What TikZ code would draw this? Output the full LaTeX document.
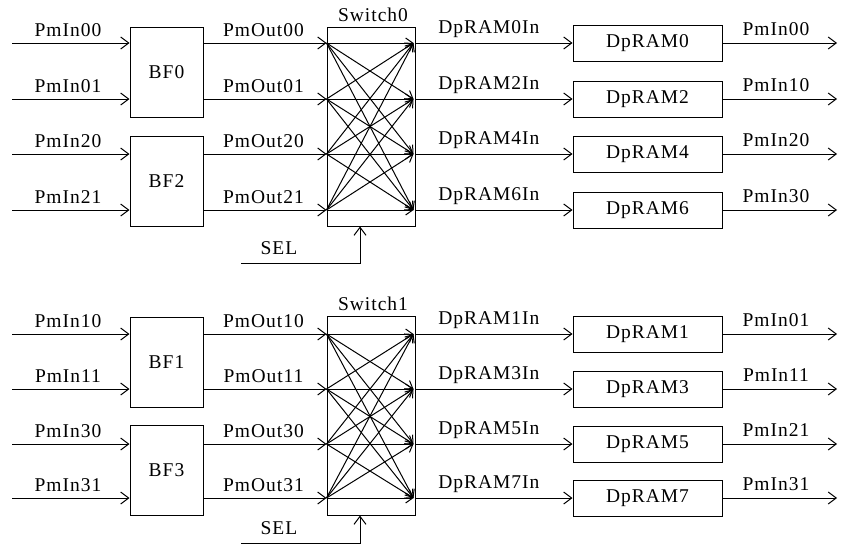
\documentclass[tikz,border=0pt]{standalone}
\usepackage{fontspec}
\setmainfont[LetterSpace=5]{Liberation Serif}
\usetikzlibrary{arrows.meta}
\begin{document}
\begin{tikzpicture}[x=1pt,y=-1pt,line width=1pt,
  font=\fontsize{19.5}{22}\selectfont,
  lbl/.style={anchor=base, inner sep=0pt},
  bfbox/.style={draw, minimum width=73pt, minimum height=90pt, inner sep=0pt},
  swbox/.style={draw, minimum width=88pt, minimum height=199pt, inner sep=0pt},
  rambox/.style={draw, minimum width=149pt, minimum height=36pt, inner sep=0pt},
  arr/.style={-{Straight Barb[length=8pt,width=12pt]}},
  sarr/.style={-{Straight Barb[length=7pt,width=10pt]}}]
\useasboundingbox (0,0) rectangle (842,554);

% blocks
\node[bfbox] (BF0) at (166.5,72.5) {BF0};
\node[bfbox] (BF2) at (166.5,181) {BF2};
\node[bfbox] (BF1) at (166.5,362) {BF1};
\node[bfbox] (BF3) at (166.5,470.5) {BF3};
\node[swbox] (S0) at (371,126.5) {};
\node[swbox] (S1) at (371,415.5) {};
\node[lbl] (S0l) at (373,21) {Switch0};
\node[lbl] (S1l) at (373,310) {Switch1};

% rows
\foreach \r/\y/\inl/\outl/\ram/\ol/\bf/\sw in {
  t1/43/PmIn00/PmOut00/0/PmIn00/BF0/S0,
  t2/99/PmIn01/PmOut01/2/PmIn10/BF0/S0,
  t3/154/PmIn20/PmOut20/4/PmIn20/BF2/S0,
  t4/210/PmIn21/PmOut21/6/PmIn30/BF2/S0,
  b1/334/PmIn10/PmOut10/1/PmIn01/BF1/S1,
  b2/389/PmIn11/PmOut11/3/PmIn11/BF1/S1,
  b3/444/PmIn30/PmOut30/5/PmIn21/BF3/S1,
  b4/498/PmIn31/PmOut31/7/PmIn31/BF3/S1}{
  \coordinate (in\r) at (12,\y);
  \coordinate (out\r) at (837,\y);
  \node[lbl] (lin\r) at (68,\y-7) {\inl};
  \node[lbl] (lout\r) at (263.5,\y-7) {\outl};
  \node[lbl] (lram\r) at (488.8,\y-10) {DpRAM\ram In};
  \node[lbl] (lo\r) at (776,\y-7.5) {\ol};
  \node[rambox] (ram\r) at (647.5,\y) {DpRAM\ram};
  \coordinate (sl\r) at (\sw.west |- in\r);
  \coordinate (sr\r) at ([xshift=-2pt]\sw.east |- in\r);
  \draw[arr] (in\r) -- (in\r -| \bf.west);
  \draw[arr] (\bf.east |- in\r) -- (sl\r);
  \draw[arr] (\sw.east |- in\r) -- (ram\r.west);
  \draw[arr] (ram\r.east) -- (out\r);
}

% crossbars
\foreach \i in {t1,t2,t3,t4}{\foreach \j in {t1,t2,t3,t4}{\draw[sarr] (sl\i) -- (sr\j);}}
\foreach \i in {b1,b2,b3,b4}{\foreach \j in {b1,b2,b3,b4}{\draw[sarr] (sl\i) -- (sr\j);}}

% select lines
\coordinate (sel0) at (241,263);
\coordinate (sel1) at (241,543);
\node[lbl] (sel0l) at (279,254) {SEL};
\node[lbl] (sel1l) at (279,534) {SEL};
\draw[arr] (sel0) -| ([xshift=-11pt]S0.south);
\draw[arr] (sel1) -| ([xshift=-11pt]S1.south);
\end{tikzpicture}
\end{document}
